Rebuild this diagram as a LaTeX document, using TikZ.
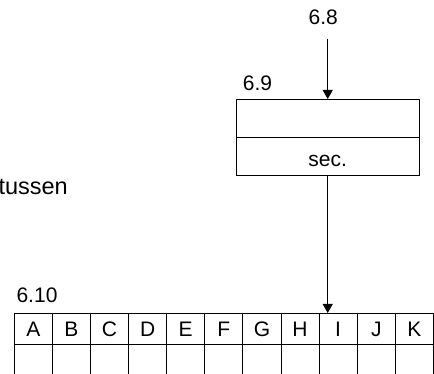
\documentclass[tikz,border=0pt]{standalone}
\usepackage{fontspec}
\setmainfont{Liberation Sans}
\usetikzlibrary{positioning,arrows.meta}
\tikzset{
box/.style={
draw,
line width=0.9pt,
minimum width=183.3pt,
minimum height=38pt,
inner sep=0pt,
outer sep=0pt
},
cell/.style={
draw,
line width=0.9pt,
minimum width=38.1pt,
minimum height=31pt,
inner sep=0pt,
outer sep=0pt,
text height=15pt,
text depth=0pt
},
emptycell/.style={
cell,
minimum height=40pt
},
lbl/.style={
inner sep=0pt,
text height=15pt,
text depth=0pt
},
arrow/.style={
-{Triangle[length=9pt,width=10pt]},
line width=0.9pt
}
}
\begin{document}
\begin{tikzpicture}[x=1pt,y=-1pt,node distance=0pt,font=\fontsize{21pt}{25pt}\selectfont]
\useasboundingbox (0,0) rectangle (434,374);
\clip (0,0) rectangle (434,374);
\node[lbl](l68) at (323.3,17.5){6.8};
\node[lbl](l69) at (257.5,83){6.9};
\node[lbl](l610) at (37,294.5){6.10};
\node[anchor=base east,inner sep=0pt,font=\fontsize{23.5pt}{28pt}\selectfont](tussen) at (68,194.5){tussen};
\coordinate (start) at (327.7,39);
\node[box](upper) at (327.7,118){};
\node[box,below=of upper,text height=22pt,text depth=0pt](lower){sec.};
\node[cell](A) at (33.35,328.5){A};
\foreach \x/\y in {A/B,B/C,C/D,D/E,E/F,F/G,G/H,H/I,I/J,J/K}
\node[cell,right=of \x](\y){\y};
\foreach \x in {A,B,C,D,E,F,G,H,I,J,K}
\node[emptycell,below=of \x](\x2){};

\draw[arrow](start)--(upper);
\draw[arrow](lower)--(lower.south |- I.north);
\end{tikzpicture}
\end{document}
